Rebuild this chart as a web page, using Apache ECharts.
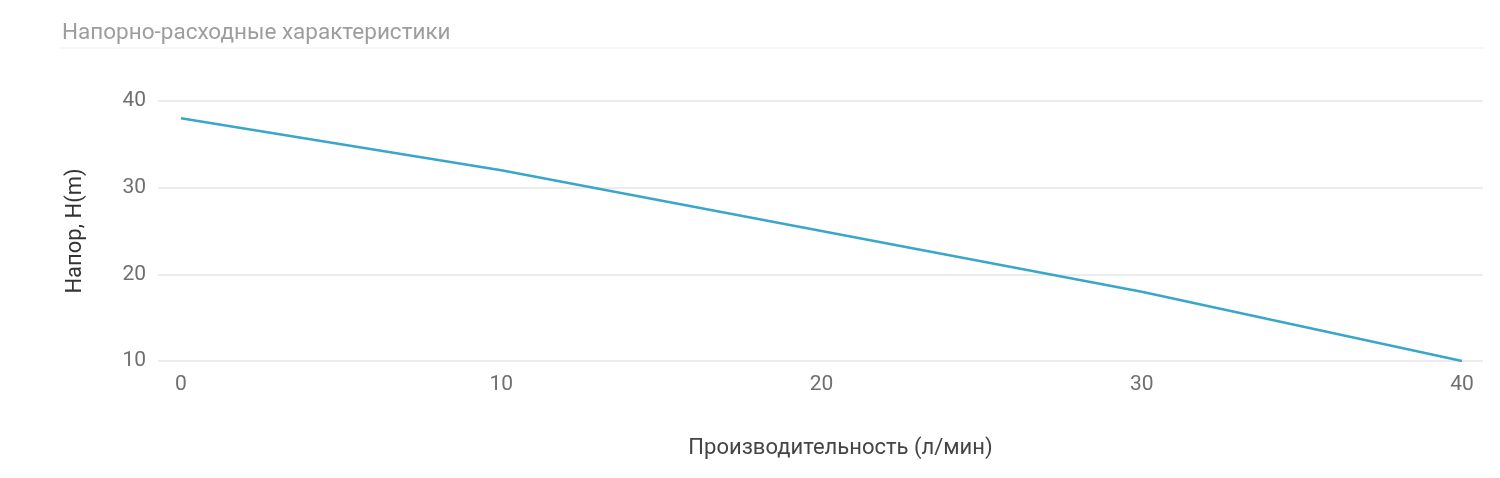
<!DOCTYPE html>
<html>
<head>
<meta charset="utf-8">
<script src="https://cdn.jsdelivr.net/npm/echarts@6/dist/echarts.min.js"></script>
<style>html,body{margin:0;padding:0;background:#fff}#c{width:1500px;height:478px}</style>
</head>
<body>
<div id="c"></div>
<script>
const flow = [0, 10, 20, 30, 40];
const head = [38, 32, 25, 18, 10];
const xTicks = [0, 10, 20, 30, 40];
const yTicks = [10, 20, 30, 40];
const titleText = 'Напорно-расходные характеристики';
const xName = 'Производительность (л/мин)';
const yName = 'Напор, H(m)';

const chart = echarts.init(document.getElementById('c'));
chart.setOption({
  animation: false,
  title: {
    text: titleText, left: 57, top: 17,
    textStyle: {color: '#9d9d9d', fontSize: 22.5, fontWeight: 'normal', fontFamily: 'Roboto'}
  },
  graphic: [{
    type: 'line', shape: {x1: 60, y1: 48, x2: 1485, y2: 48},
    style: {stroke: '#f0f0f0', lineWidth: 1}
  }],
  grid: {left: 158, right: 17, top: 101, bottom: 117},
  xAxis: {
    type: 'value', min: -0.718, max: 40.656,
    name: xName, nameLocation: 'middle', nameGap: 76,
    nameTextStyle: {color: '#444', fontSize: 22, fontFamily: 'Roboto', padding: [0, 0, 0, 40]},
    axisLine: {show: false}, axisTick: {show: false},
    splitLine: {show: false},
    axisLabel: {customValues: xTicks, color: '#6f6f6f', fontSize: 21, fontFamily: 'Roboto', margin: 13}
  },
  yAxis: {
    type: 'value', min: 10, max: 40, interval: 10,
    name: yName, nameLocation: 'middle', nameGap: 72,
    nameTextStyle: {color: '#333', fontSize: 22, fontFamily: 'Roboto'},
    axisLine: {show: false}, axisTick: {show: false},
    splitLine: {lineStyle: {color: '#e6e6e6', width: 1.5}},
    axisLabel: {customValues: yTicks, color: '#6f6f6f', fontSize: 21, fontFamily: 'Roboto', margin: 12}
  },
  series: [{
    type: 'line',
    data: flow.map((x, i) => [x, head[i]]),
    showSymbol: false, symbol: 'none',
    lineStyle: {color: '#3aa6c9', width: 2.5}
  }]
});
</script>
</body>
</html>
